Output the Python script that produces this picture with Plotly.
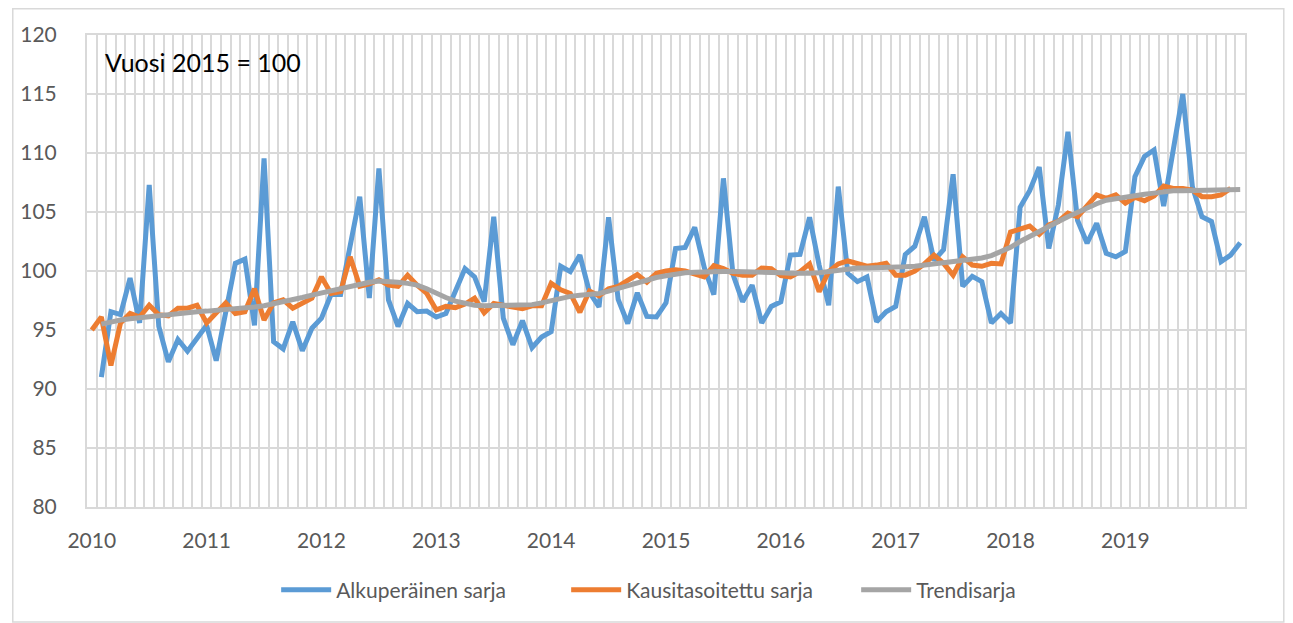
import plotly.graph_objects as go

# Monthly axis: Jan 2010 ... Jan 2020 (121 months); labels every January
year_labels = ["2010", "2011", "2012", "2013", "2014", "2015", "2016", "2017", "2018", "2019"]
n_months = 121

# Alkuperäinen sarja (starts Feb 2010)
original = [
    91.0, 96.55, 96.3, 99.4, 95.6, 107.3, 95.3, 92.3, 94.2, 93.2, 94.3,
    95.4, 92.4, 96.4, 100.65, 101.0, 95.4, 109.55, 94.0, 93.4, 95.7, 93.25, 95.15,
    96.0, 98.0, 98.0, 102.1, 106.3, 97.7, 108.7, 97.55, 95.3, 97.25, 96.55, 96.6,
    96.1, 96.4, 98.3, 100.2, 99.5, 97.4, 104.6, 96.0, 93.75, 95.8, 93.5, 94.4,
    94.85, 100.4, 99.95, 101.35, 98.2, 96.95, 104.55, 97.6, 95.55, 98.15, 96.15, 96.1,
    97.3, 101.9, 102.0, 103.7, 100.3, 98.0, 107.85, 99.7, 97.4, 98.8, 95.6, 97.0,
    97.4, 101.35, 101.4, 104.55, 100.5, 97.1, 107.15, 99.8, 99.1, 99.5, 95.7, 96.55,
    97.0, 101.4, 102.1, 104.6, 100.9, 101.8, 108.2, 98.7, 99.55, 99.1, 95.6, 96.4,
    95.6, 105.4, 106.8, 108.8, 101.9, 105.6, 111.8, 104.3, 102.35, 104.05, 101.5, 101.2,
    101.65, 108.0, 109.7, 110.25, 105.5, 110.2, 115.0, 107.15, 104.6, 104.2, 100.8, 101.35,
    102.4,
]
original_start = 1

# Kausitasoitettu sarja (starts Jan 2010)
seasonal = [
    95.0, 96.1, 92.0, 95.6, 96.4, 96.1, 97.1, 96.3, 96.2, 96.85, 96.85, 97.1,
    95.6, 96.4, 97.3, 96.4, 96.55, 98.5, 95.85, 97.3, 97.55, 96.85, 97.25, 97.7,
    99.5, 98.1, 98.25, 101.2, 98.7, 98.9, 99.25, 98.8, 98.7, 99.65, 98.8, 98.1,
    96.7, 97.0, 96.9, 97.2, 97.7, 96.45, 97.25, 97.1, 97.0, 96.8, 97.05, 97.05,
    98.95, 98.4, 98.1, 96.5, 98.3, 97.9, 98.5, 98.7, 99.2, 99.7, 99.05, 99.8,
    100.0, 100.1, 100.0, 99.8, 99.5, 100.45, 100.2, 99.8, 99.65, 99.65, 100.25, 100.2,
    99.6, 99.5, 99.95, 100.6, 98.25, 99.95, 100.6, 100.85, 100.6, 100.4, 100.5, 100.65,
    99.65, 99.65, 100.0, 100.6, 101.35, 100.65, 99.65, 101.2, 100.5, 100.4, 100.65, 100.6,
    103.3, 103.6, 103.8, 103.1, 103.9, 104.2, 104.9, 104.6, 105.6, 106.45, 106.15, 106.45,
    105.75, 106.25, 105.95, 106.35, 107.2, 107.0, 107.0, 106.85, 106.3, 106.3, 106.45, 107.0,
]
seasonal_start = 0

# Trendisarja (starts Feb 2010)
trend = [
    95.5, 95.7, 95.85, 95.95, 96.05, 96.15, 96.25, 96.35, 96.45, 96.5, 96.55,
    96.6, 96.65, 96.7, 96.75, 96.85, 96.95, 97.05, 97.2, 97.35, 97.55, 97.75, 97.95,
    98.15, 98.35, 98.55, 98.75, 98.9, 99.05, 99.15, 99.15, 99.05, 98.95, 98.8, 98.5,
    98.1, 97.75, 97.45, 97.25, 97.1, 97.05, 97.05, 97.05, 97.05, 97.1, 97.15, 97.3,
    97.5, 97.7, 97.85, 97.95, 98.0, 98.1, 98.3, 98.55, 98.8, 99.05, 99.25, 99.45,
    99.6, 99.75, 99.85, 99.9, 99.95, 99.95, 99.95, 99.95, 99.95, 99.95, 99.95, 99.9,
    99.85, 99.8, 99.75, 99.8, 99.85, 99.95, 100.1, 100.2, 100.25, 100.25, 100.25, 100.25,
    100.3, 100.35, 100.4, 100.5, 100.55, 100.65, 100.75, 100.85, 100.95, 101.1, 101.3, 101.6,
    102.0, 102.5, 102.95, 103.4, 103.8, 104.2, 104.6, 105.0, 105.4, 105.7, 106.0, 106.15,
    106.3, 106.4, 106.5, 106.6, 106.75, 106.8, 106.8, 106.8, 106.8, 106.8, 106.8, 106.85,
    106.9,
]
trend_start = 1

series_names = ["Alkuperäinen sarja", "Kausitasoitettu sarja", "Trendisarja"]
colors = ["#5B9BD5", "#ED7D31", "#A5A5A5"]

FONT = "Lato, 'Open Sans', sans-serif"
GRID = "#D9D9D9"
TXT = "#595959"

fig = go.Figure()
for name, vals, start, col in zip(series_names,
                                  [original, seasonal, trend],
                                  [original_start, seasonal_start, trend_start],
                                  colors):
    fig.add_trace(go.Scatter(
        x=list(range(start, start + len(vals))), y=vals, mode="lines", name=name,
        line=dict(color=col, width=5), hoverinfo="x+y",
    ))

# page body adds an 8px offset, so the figure is 8px smaller and margins shifted
fig.update_layout(
    width=1285, height=615,
    margin=dict(l=75, r=48, t=27, b=116),
    paper_bgcolor="white", plot_bgcolor="white",
    font=dict(family=FONT, size=21, color=TXT),
    showlegend=True,
    legend=dict(orientation="h", x=0.539, xanchor="center", y=-0.176, yanchor="middle",
                font=dict(family=FONT, size=21, color=TXT), itemwidth=50,
                traceorder="normal", entrywidth=225, entrywidthmode="pixels"),
    xaxis=dict(
        range=[-0.5, n_months - 0.5],
        tickmode="array",
        tickvals=[12 * k for k in range(len(year_labels))],
        ticktext=year_labels,
        showgrid=False, zeroline=False,
        showline=True, linecolor=GRID, linewidth=2, mirror=True,
        ticks="", ticklabelstandoff=14,
        tickfont=dict(family=FONT, size=21, color=TXT),
        minor=dict(tickmode="linear", tick0=-0.5, dtick=1, showgrid=True,
                   gridcolor=GRID, gridwidth=2, ticks=""),
    ),
    yaxis=dict(
        range=[80, 120], tickmode="linear", tick0=80, dtick=5,
        showgrid=True, gridcolor=GRID, gridwidth=2, zeroline=False,
        showline=True, linecolor=GRID, linewidth=2, mirror=True,
        ticks="", ticklabelstandoff=24,
        tickfont=dict(family=FONT, size=21, color=TXT),
    ),
    annotations=[dict(
        text="Vuosi 2015 = 100", xref="paper", yref="paper",
        x=0.014, y=0.943, xanchor="left", yanchor="middle", showarrow=False,
        font=dict(family=FONT, size=25, color="#000000"),
    )],
    shapes=[dict(
        type="rect", xref="paper", yref="paper", layer="below",
        x0=-0.0641, x1=1.0335, y0=-0.2435, y1=1.0555,
        line=dict(color=GRID, width=1.5), fillcolor="rgba(0,0,0,0)",
    )],
)

fig.write_html("out.html")
